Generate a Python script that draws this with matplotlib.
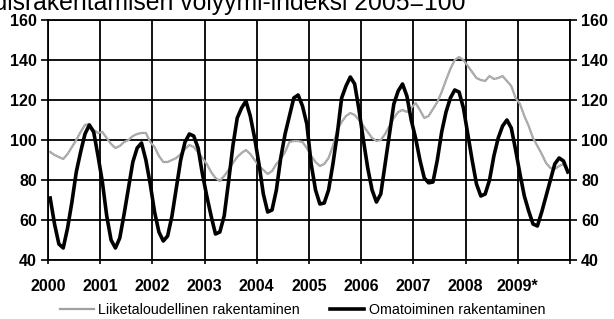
import numpy as np
import matplotlib
matplotlib.use("Agg")
import matplotlib.pyplot as plt

# Uudisrakentamisen volyymi-indeksi 2005=100, kuukausittain 2000-2009
years = ["2000", "2001", "2002", "2003", "2004", "2005", "2006", "2007", "2008", "2009*"]

liiketaloudellinen = [
    94, 92.5, 91.5, 90.5, 93, 96.5, 100, 104, 107.5, 108, 105, 103.5,
    104, 101, 98, 96, 97, 99, 100, 102, 103, 103.5, 103.5, 99,
    96.5, 92, 89, 89, 90, 91, 93, 95.5, 97.5, 96.5, 94, 91,
    88, 84, 81, 79.5, 82, 85, 88.5, 91.5, 93.5, 95, 93, 90,
    87, 85, 83, 84.5, 88, 90.5, 94, 99, 99.5, 99.5, 99, 96,
    92, 89, 87, 88, 91, 97, 105, 109, 112, 113.5, 112.5, 110,
    107, 104, 101, 99.5, 100, 103, 107, 111, 114, 115, 114, 116,
    118.5, 115, 111, 112, 115.5, 119, 124, 130, 135.5, 140, 141.5, 140,
    137, 134, 131, 130, 129.5, 132, 130.5, 131, 132, 129.5, 127, 121,
    118, 112, 107, 101, 97, 93, 88.5, 86, 85.5, 87, 88, 84.5,
]

omatoiminen = [
    71, 58, 48, 46, 56, 69, 84, 94, 103, 107.5, 104, 92,
    79, 62, 50, 46, 51, 63, 76, 89, 96, 98.5, 90, 78,
    64, 54, 49.5, 52, 62, 76, 90, 99, 103, 102, 96, 83,
    72, 62, 53, 54, 62, 79, 97, 111, 116, 119.5, 112, 101,
    88, 73, 64, 65, 75, 91, 103, 112, 121, 122.5, 117, 108,
    88, 75, 68, 68.5, 75, 88, 103, 121, 127, 131.5, 128, 115,
    100, 86, 75, 69, 73, 88, 103, 118, 124.5, 128, 122, 110,
    101, 90, 81, 78.6, 79, 90, 104, 114, 121, 125, 124, 116,
    103, 90, 78, 72, 73, 80, 92, 101, 107, 110, 106, 95,
    83, 72, 64.5, 58, 57, 64, 72, 80, 88, 91, 89.5, 84,
]

t = 2000 + (np.arange(len(omatoiminen)) + 0.5) / 12

plt.rcParams['font.family'] = ['Liberation Sans', 'DejaVu Sans']

fig = plt.figure(figsize=(6.14, 3.19), dpi=100)
ax = fig.add_axes([48 / 614, 1 - 260 / 319, 522 / 614, 240 / 319])

ax.plot(t, liiketaloudellinen, color="#a0a0a0", lw=1.6, zorder=3,
        label="Liiketaloudellinen rakentaminen")
ax.plot(t, liiketaloudellinen, color="#d0d0d0", lw=0.6, ls=(0, (1, 1.5)), zorder=3)
ax.plot(t, omatoiminen, color="black", lw=2.6, zorder=4,
        label="Omatoiminen rakentaminen")

ax.set_xlim(2000, 2010)
ax.set_ylim(40, 160)
ax.set_xticks(np.arange(2000, 2011))
ax.set_xticklabels(years + [""])
ax.tick_params(axis="x", which="major", length=3, width=1.2, pad=11, labelsize=11.5)
ax.set_yticks(np.arange(40, 161, 20))
ax.tick_params(axis="y", which="major", length=5, width=1.2, labelsize=11.5,
               right=True, labelright=True, pad=3)
for lab in ax.get_xticklabels() + ax.get_yticklabels():
    lab.set_fontweight("bold")

ax.grid(True, which="major", color="black", lw=1.3)
for s in ax.spines.values():
    s.set_linewidth(1.3)

fig.text(-0.062, 1 - 10 / 319, "Uudisrakentamisen volyymi-indeksi 2005=100",
         fontsize=17.8, va="baseline", ha="left")

fig.legend(loc="lower center", bbox_to_anchor=(0.4927, -0.035), ncol=2, frameon=False,
           fontsize=10.3, handlelength=2.4, columnspacing=2.1, handletextpad=0.3)

fig.savefig("out.png", dpi=100)
